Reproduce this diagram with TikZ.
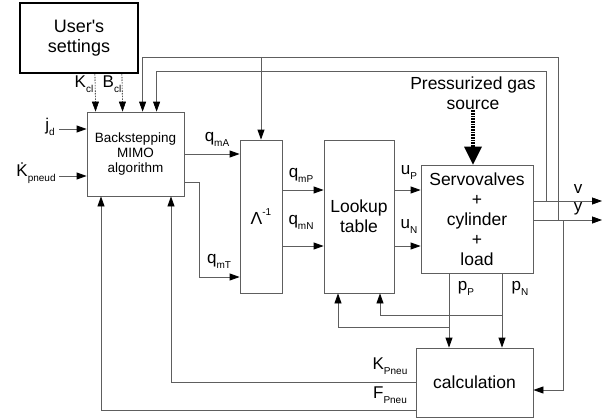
\documentclass[tikz,border=0pt]{standalone}
\usepackage{fontspec}
\setmainfont{Liberation Sans}
\usepackage{tikz}
\usetikzlibrary{arrows.meta, positioning, calc}
\definecolor{LineGray}{HTML}{5E5E5E}
\newcommand{\sbs}[1]{\raisebox{-5pt}{\fontsize{10}{10}\selectfont #1}}

\begin{document}
\begin{tikzpicture}[x=1pt, y=-1pt,
    block/.style={draw=LineGray, line width=0.8pt, inner sep=0pt, align=center, font=\fontsize{17.5}{20}\selectfont},
    conn/.style={draw=LineGray, line width=0.8pt, -{Triangle[length=10pt, width=7pt, color=black]}},
    cfgarr/.style={draw=black, line width=0.6pt, dash pattern=on 1.5pt off 1.2pt, -{Triangle[length=10pt, width=7pt]}},
    gasarr/.style={draw=black, line width=4pt, dash pattern=on 0.8pt off 0.8pt, -{Triangle[length=18pt, width=18pt, line width=0pt]}},
    sig/.style={inner sep=0pt, font=\fontsize{17}{17}\selectfont}]
    \useasboundingbox (0,0) rectangle (613,420);

    % Draw blocks
    \node[block, draw=black, line width=2.2pt, minimum width=118pt, minimum height=70pt, font=\fontsize{18}{20}\selectfont] (settings) at (79,38) {User\textquotesingle s\\settings};
    \node[block, minimum width=97pt, minimum height=84pt, font=\fontsize{13.5}{15}\selectfont] (back) at (135.5,154) {Backstepping\\MIMO\\algorithm};
    \node[block, minimum width=42pt, minimum height=153pt] (lam) at (261,216.5) {Λ\raisebox{0.9ex}{\fontsize{10}{10}\selectfont -1}};
    \node[block, minimum width=70pt, minimum height=153pt] (lut) at (359,216.5) {Lookup\\table};
    \node[block, minimum width=112pt, minimum height=108pt] (servo) at (477,219) {Servovalves\\+\\cylinder\\+\\load};
    \node[block, minimum width=117pt, minimum height=69pt] (calc) at (474.5,382.5) {calculation};
    \node[sig, align=center, font=\fontsize{17.5}{20}\selectfont] (gas) at (473,93) {Pressurized gas\\source};

    % Gas supply
    \draw[gasarr] (gas.south) -- (gas.south |- servo.north);

    % User's settings
    \draw[cfgarr] ([xshift=76pt]settings.south west) -- ([xshift=9pt]back.north west);
    \draw[cfgarr] ([xshift=103pt]settings.south west) -- ([xshift=36pt]back.north west);
    \node[sig] (lKcl) at (84,84) {K\sbs{cl}};
    \node[sig] (lBcl) at (112,84) {B\sbs{cl}};

    % Inputs
    \coordinate (jdin) at (59,129);
    \coordinate (kdin) at (59,176);
    \draw[conn] (jdin) -- (jdin -| back.west);
    \draw[conn] (kdin) -- (kdin -| back.west);
    \node[sig] (ljd) at (50,127) {j\sbs{d}};
    \node[sig] (lkd) at (36,173) {\.{K}\sbs{pneud}};

    % Controller to inverse
    \draw[conn] (back.east) -- (back.east -| lam.west);
    \draw[conn] ([yshift=-28pt]back.east) -- ++(15,0) |- ([yshift=-60.5pt]lam.west);
    \node[sig] (lqmA) at (217,139) {q\sbs{mA}};
    \node[sig] (lqmT) at (219,261) {q\sbs{mT}};

    % Inverse to lookup table
    \draw[conn] ([yshift=26.5pt]lam.east) -- ([yshift=26.5pt]lam.east -| lut.west);
    \draw[conn] ([yshift=-29.5pt]lam.east) -- ([yshift=-29.5pt]lam.east -| lut.west);
    \node[sig] (lqmP) at (301,175) {q\sbs{mP}};
    \node[sig] (lqmN) at (301,222) {q\sbs{mN}};

    % Lookup table to servovalves
    \draw[conn] ([yshift=26.5pt]lut.east) -- ([yshift=26.5pt]lut.east -| servo.west);
    \draw[conn] ([yshift=-29.5pt]lut.east) -- ([yshift=-29.5pt]lut.east -| servo.west);
    \node[sig] (luP) at (409,173) {u\sbs{P}};
    \node[sig] (luN) at (409,227) {u\sbs{N}};

    % Outputs
    \coordinate (vout) at (602,201);
    \coordinate (yout) at (602,220);
    \draw[conn] (servo.east |- vout) -- (vout);
    \draw[conn] (servo.east |- yout) -- (yout);
    \node[sig] (lv) at (578,189) {v};
    \node[sig] (ly) at (578,209) {y};

    % Feedback of v and y
    \coordinate (vtap) at (546,201);
    \coordinate (ytap) at (558,220);
    \coordinate (ctap) at (563,220);
    \coordinate (lamtap) at (261,57);
    \draw[conn] (vtap) -- ++(0,-130) -| ([xshift=70pt]back.north west);
    \draw[conn] (ytap) -- ++(0,-163) -| ([xshift=56pt]back.north west);
    \draw[conn] (lamtap) -- (lam.north);
    \draw[conn] (ctap) |- ([yshift=-7.5pt]calc.east);

    % Pressures
    \draw[conn] ([xshift=-28pt]servo.south) -- ([xshift=-28pt]servo.south |- calc.north);
    \draw[conn] ([xshift=25pt]servo.south) -- ([xshift=25pt]servo.south |- calc.north);
    \node[sig] (lpP) at (466,288) {p\sbs{P}};
    \node[sig] (lpN) at (520,288) {p\sbs{N}};
    \coordinate (pNtap) at (502,315);
    \coordinate (pPtap) at (449,327);
    \draw[conn] (pNtap) -| ([xshift=21pt]lut.south);
    \draw[conn] (pPtap) -| ([xshift=-21pt]lut.south);

    % Calculation back to controller
    \draw[conn] (calc.west) -| ([xshift=35.5pt]back.south);
    \draw[conn] ([yshift=-27.5pt]calc.west) -| ([xshift=-34.5pt]back.south);
    \node[sig] (lKp) at (390,366) {K\sbs{Pneu}};
    \node[sig] (lFp) at (390,395) {F\sbs{Pneu}};
\end{tikzpicture}
\end{document}
